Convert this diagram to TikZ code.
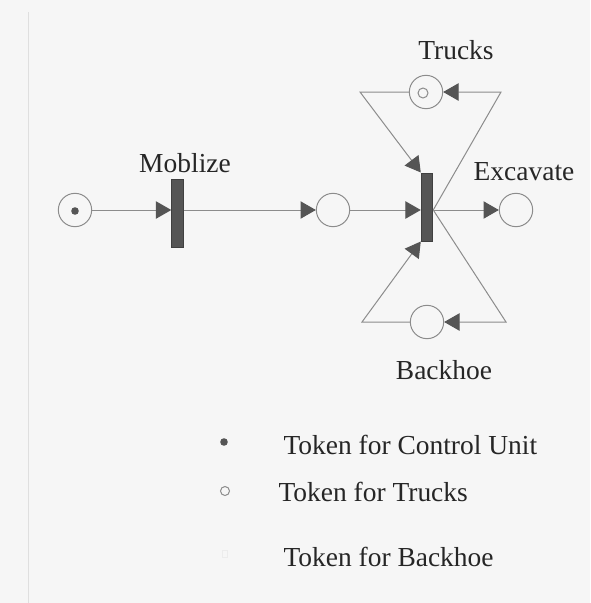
\documentclass[tikz,border=0pt]{standalone}
\usepackage{fontspec}
\setmainfont{Liberation Serif}
\usetikzlibrary{arrows.meta,positioning}

\definecolor{arcgray}{RGB}{140,140,140}
\definecolor{bargray}{RGB}{85,85,85}
\definecolor{papergray}{RGB}{246,246,246}

\tikzset{every picture/.style={line width=0.75pt}}
\tikzset{
  place/.style={circle, draw=arcgray, fill=papergray, minimum size=25pt, inner sep=0pt},
  trans/.style={rectangle, draw=black!75, fill=bargray, minimum width=8.6pt, minimum height=51pt, inner sep=0pt},
  arc/.style={draw=arcgray, -{Triangle[length=11.5pt, width=13pt, color=bargray]}},
  lbl/.style={font=\fontsize{20.6}{24}\selectfont, text=black!85, inner sep=0pt}
}

\begin{document}
\begin{tikzpicture}[x=0.75pt,y=0.75pt,yscale=-1,xscale=1]
%set diagram left start at 0, and has height of 603
\fill[papergray] (0,0) rectangle (590,603);
\useasboundingbox (0,0) rectangle (590,603);
\draw[gray!25, line width=0.5pt] (28,12) -- (28,603);

%Places
\node[place] (p0) at (75,210) {};
\node[place] (p1) at (333,210) {};
\node[place] (pExc) at (516,210) {};
\node[place] (pTrk) at (426,92) {};
\node[place] (pBck) at (427,322) {};

%Tokens
\fill[bargray] (75,211) circle (3.8);
\draw[arcgray] (423,93) circle (5);

%Transitions
\node[trans] (tMob) at (177.5,213.5) {};
\node[trans] (tExc) at (427,207) {};

%Corners of the resource loops
\coordinate (trkL) at (360,92);
\coordinate (trkR) at (501,92);
\coordinate (bckL) at (362,322);
\coordinate (bckR) at (506,322);

%Arcs
\draw[arc] (p0.east) -- (p0.east -| tMob.west);
\draw[arc] (tMob.east |- p1) -- (p1.west);
\draw[arc] (p1.east) -- (p1.east -| tExc.west);
\draw[arc] (tExc.east |- pExc) -- (pExc.west);
\draw[arc] (tExc.east |- pExc) -- (trkR) -- (pTrk.east);
\draw[arc] (pTrk.west) -- (trkL) -- (tExc.north west);
\draw[arc] (tExc.east |- pExc) -- (bckR) -- (pBck.east);
\draw[arc] (pBck.west) -- (bckL) -- (tExc.south west);

%Labels
\node[lbl] (lMob) at (185,163) {Moblize};
\node[lbl] (lTrk) at (456,50) {Trucks};
\node[lbl] (lExc) at (524,172) {Excavate};
\node[lbl] (lBck) at (444,370) {Backhoe};

%Legend
\fill[bargray] (224,442) circle (3.8);
\node[lbl, anchor=west] (lgCU) at (283,445) {Token for Control Unit};
\draw[arcgray] (225,491) circle (4.5);
\node[lbl, anchor=west] (lgTrk) at (278,492) {Token for Trucks};
\draw[gray!15] (222,550) rectangle (227,557);
\node[lbl, anchor=west] (lgBck) at (283,557) {Token for Backhoe};

\end{tikzpicture}
\end{document}
